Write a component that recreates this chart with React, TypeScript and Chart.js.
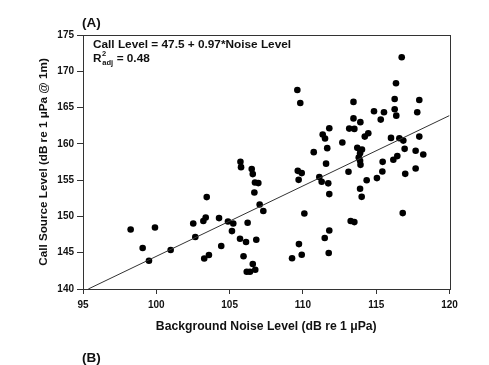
import React, { useEffect, useRef } from "react";
import { Chart, registerables } from "chart.js";

Chart.register(...registerables);

// Background noise level (dB re 1 µPa)
const noiseLevel = [
  98.25, 99.91, 99.07, 99.5, 100.98, 102.52, 102.66, 103.21, 103.37, 103.44,
  103.27, 103.59, 105.74, 105.78, 106.51, 106.58, 106.73, 106.96, 106.69, 107.05,
  107.3, 104.28, 104.89, 105.25, 105.16, 106.23, 105.71, 106.12, 106.82, 104.43,
  105.95, 106.58, 106.75, 106.39, 106.17, 109.62, 109.82, 110.74, 109.65, 109.92,
  109.71, 111.12, 110.1, 109.73, 109.92, 109.26, 113.45, 114.85, 113.45, 113.92,
  111.8, 113.16, 113.51, 111.35, 111.51, 114.46, 114.22, 112.69, 111.66, 113.71,
  114.03, 113.9, 113.81, 113.9, 113.93, 111.58, 113.11, 111.28, 111.73, 114.35,
  115.05, 113.9, 114.01, 111.8, 116.81, 113.26, 113.51, 111.8, 111.49, 111.76,
  116.74, 116.35, 116.26, 117.94, 115.53, 116.26, 116.37, 117.8, 115.31, 116.01,
  116.58, 116.85, 117.94, 116.94, 117.69, 118.21, 116.44, 116.17, 115.44, 115.42,
  116.98, 117.69,
];

// Call source level (dB re 1 µPa @ 1m)
const callLevel = [
  148.2, 148.48, 145.64, 143.9, 145.37, 149.03, 147.16, 149.36, 149.86, 152.66,
  144.21, 144.68, 157.52, 156.79, 156.52, 155.83, 154.67, 154.59, 153.3, 151.64,
  150.74, 149.77, 149.3, 149.03, 147.98, 149.13, 146.92, 146.47, 146.79, 145.92,
  144.52, 143.44, 142.66, 142.38, 142.38, 167.43, 165.64, 158.86, 156.28, 155.97,
  155.04, 155.42, 150.41, 146.19, 144.72, 144.24, 165.78, 164.5, 163.51, 162.99,
  162.16, 162.1, 162.06, 161.28, 160.73, 161.47, 161.0, 160.18, 159.41, 159.45,
  159.21, 158.72, 158.11, 157.66, 157.11, 157.27, 156.15, 154.77, 154.56, 154.98,
  155.28, 153.81, 152.7, 153.08, 150.46, 149.36, 149.22, 148.07, 147.02, 144.96,
  171.93, 168.35, 166.19, 166.05, 164.36, 164.77, 163.89, 164.36, 163.34, 160.82,
  160.78, 160.45, 161.0, 159.31, 159.04, 158.53, 158.31, 157.8, 157.52, 156.19,
  155.87, 156.6,
];

// Regression line end points
const fitNoise = [95.36, 120];
const fitCall = [140, 163.9];

const xTickValues = [95, 100, 105, 110, 115, 120];
const yTickValues = [140, 145, 150, 155, 160, 165, 170, 175];

const panelA = "(A)";
const panelB = "(B)";
const equationText = "Call Level = 47.5 + 0.97*Noise Level";
const r2Text = " = 0.48";
const xTitle = "Background Noise Level (dB re 1 μPa)";
const yTitle = "Call Source Level (dB re 1 μPa @ 1m)";

const FONT = '"Liberation Sans", Arial, Helvetica, sans-serif';

const annotations = {
  id: "annotations",
  afterDraw(chart: any) {
    const { ctx, chartArea: a } = chart;
    ctx.save();
    ctx.strokeStyle = "#333";
    ctx.lineWidth = 1;
    ctx.strokeRect(Math.round(a.left) + 0.5, Math.round(a.top) + 0.5, Math.round(a.right - a.left), Math.round(a.bottom - a.top));
    ctx.fillStyle = "#111";
    ctx.textBaseline = "alphabetic";
    ctx.textAlign = "left";
    ctx.font = `bold 13.5px ${FONT}`;
    ctx.fillText(panelA, 82, 27);
    ctx.fillText(panelB, 82, 362);
    ctx.font = `bold 11.8px ${FONT}`;
    ctx.fillText(equationText, 93, 48);
    let x = 93;
    const y = 62;
    ctx.fillText("R", x, y);
    x += ctx.measureText("R").width;
    ctx.font = `bold 7.5px ${FONT}`;
    ctx.fillText("2", x + 0.5, y - 6);
    ctx.fillText("adj", x + 0.8, y + 2.5);
    x += ctx.measureText("adj").width + 1;
    ctx.font = `bold 11.8px ${FONT}`;
    ctx.fillText(r2Text, x, y);
    ctx.restore();
  },
};

export default function App() {
  const ref = useRef<HTMLCanvasElement | null>(null);

  useEffect(() => {
    if (!ref.current) return;
    const points = noiseLevel.map((n, i) => ({ x: n, y: callLevel[i] }));
    const fit = fitNoise.map((n, i) => ({ x: n, y: fitCall[i] }));
    const chart = new Chart(ref.current, {
      type: "scatter",
      data: {
        datasets: [
          {
            type: "line",
            data: fit,
            borderColor: "#333",
            borderWidth: 1,
            pointRadius: 0,
            fill: false,
          } as any,
          {
            data: points,
            backgroundColor: "#000",
            borderColor: "#000",
            borderWidth: 0,
            pointRadius: 3.3,
          },
        ],
      },
      options: {
        responsive: false,
        animation: false,
        layout: { padding: { top: 35, right: 39.5, left: 0, bottom: 0 } },
        plugins: {
          legend: { display: false },
          tooltip: { enabled: false },
        },
        scales: {
          x: {
            type: "linear",
            min: 95,
            max: 120,
            afterFit(scale: any) {
              scale.height = 76;
            },
            afterBuildTicks(scale: any) {
              scale.ticks = xTickValues.map((v) => ({ value: v }));
            },
            grid: {
              drawOnChartArea: false,
              drawTicks: true,
              tickLength: 5,
              color: "#333",
            },
            border: { display: true, color: "#333", width: 1 },
            ticks: {
              color: "#111",
              padding: 5,
              font: { family: FONT, size: 10, weight: "bold" },
            },
            title: {
              display: true,
              text: xTitle,
              color: "#111",
              font: { family: FONT, size: 12.2, weight: "bold" },
              padding: { top: 0, bottom: 31.2 },
            },
          },
          y: {
            type: "linear",
            min: 140,
            max: 175,
            afterFit(scale: any) {
              scale.width = 83;
            },
            afterBuildTicks(scale: any) {
              scale.ticks = yTickValues.map((v) => ({ value: v }));
            },
            grid: {
              drawOnChartArea: false,
              drawTicks: true,
              tickLength: 6,
              color: "#333",
            },
            border: { display: true, color: "#333", width: 1 },
            ticks: {
              color: "#111",
              padding: 3,
              font: { family: FONT, size: 10, weight: "bold" },
            },
            title: {
              display: true,
              text: yTitle,
              color: "#111",
              font: { family: FONT, size: 11.7, weight: "bold" },
              padding: { top: 37, bottom: 0 },
            },
          },
        },
      },
      plugins: [annotations],
    });
    return () => chart.destroy();
  }, []);

  return (
    <div style={{ position: "fixed", left: 0, top: 0, width: 489, height: 365, background: "#fff" }}>
      <canvas ref={ref} width={489} height={365} style={{ display: "block" }} />
    </div>
  );
}
